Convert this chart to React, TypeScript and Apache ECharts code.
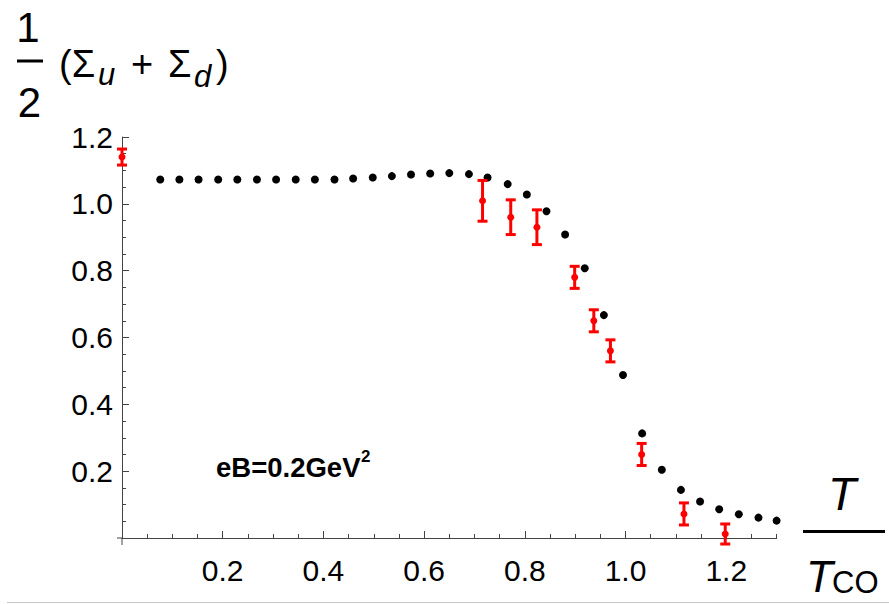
import React, { useEffect, useRef } from 'react';
import * as echarts from 'echarts';

// Black points: T/T_CO and (Σu+Σd)/2
const blackT = [0.076, 0.114, 0.152, 0.191, 0.229, 0.268, 0.306, 0.345, 0.383, 0.422, 0.459, 0.498, 0.536, 0.574, 0.612, 0.650, 0.689, 0.726, 0.766, 0.804, 0.843, 0.880, 0.919, 0.957, 0.995, 1.033, 1.072, 1.110, 1.148, 1.186, 1.225, 1.264, 1.300];
const blackY = [1.073, 1.073, 1.073, 1.073, 1.073, 1.073, 1.073, 1.073, 1.073, 1.073, 1.076, 1.079, 1.083, 1.088, 1.091, 1.092, 1.089, 1.079, 1.059, 1.028, 0.978, 0.908, 0.807, 0.667, 0.488, 0.313, 0.204, 0.144, 0.109, 0.086, 0.071, 0.061, 0.052];

// Red points with error bars
const redT = [0, 0.716, 0.772, 0.824, 0.899, 0.937, 0.970, 1.032, 1.116, 1.198];
const redY = [1.140, 1.009, 0.960, 0.930, 0.780, 0.650, 0.560, 0.250, 0.072, 0.012];
const redErr = [0.024, 0.061, 0.052, 0.052, 0.033, 0.033, 0.033, 0.033, 0.033, 0.030];

const xTickLabels = [0.2, 0.4, 0.6, 0.8, 1.0, 1.2];
const yTickLabels = [0.2, 0.4, 0.6, 0.8, 1.0, 1.2];

export default function App() {
  const ref = useRef<HTMLDivElement>(null);
  useEffect(() => {
    const chart = echarts.init(ref.current!, null, { renderer: 'svg' });
    const font = "'Liberation Sans', Arial, sans-serif";
    const axisColor = '#444';
    const red = '#ff0000';
    const txt = (text: string, x: number, y: number, size: number, extra: any = {}) => ({
      type: 'text',
      x,
      y,
      silent: true,
      style: {
        text,
        fontFamily: font,
        fontSize: size,
        fill: '#000',
        align: 'left',
        verticalAlign: 'middle',
        ...extra,
      },
    });
    const fmt = (v: number) => {
      const k = v / 0.2;
      if (v <= 0 || Math.abs(k - Math.round(k)) > 1e-6) return '';
      return v.toFixed(1);
    };
    const option: any = {
      animation: false,
      backgroundColor: '#ffffff',
      grid: {
        left: 122,
        top: 137,
        width: 654.6,
        height: 401,
        containLabel: false,
        outerBoundsMode: 'none',
      },
      xAxis: [
        {
          type: 'value',
          min: 0,
          max: 1.3,
          interval: 0.05,
          position: 'bottom',
          axisLine: { show: true, onZero: false, lineStyle: { color: axisColor, width: 1 } },
          axisTick: { show: true, inside: true, length: 4, lineStyle: { color: axisColor, width: 1 } },
          axisLabel: {
            show: true,
            customValues: xTickLabels,
            formatter: fmt,
            margin: 17,
            color: '#000',
            fontFamily: font,
            fontSize: 30,
            hideOverlap: false,
          },
          splitLine: { show: false },
          minorTick: { show: false },
        },
        {
          type: 'value',
          min: 0,
          max: 1.3,
          interval: 0.05,
          position: 'bottom',
          axisLine: { show: false, onZero: false },
          axisTick: { show: true, inside: true, length: 7, customValues: xTickLabels, lineStyle: { color: axisColor, width: 1 } },
          axisLabel: { show: false },
          splitLine: { show: false },
        },
      ],
      yAxis: {
        type: 'value',
        min: 0,
        max: 1.2,
        interval: 0.2,
        axisLine: { show: true, onZero: false, lineStyle: { color: axisColor, width: 1 } },
        axisTick: { show: true, inside: true, length: 7, lineStyle: { color: axisColor, width: 1 } },
        minorTick: { show: true, splitNumber: 4, length: 4, lineStyle: { color: axisColor, width: 1 } },
        axisLabel: {
          show: true,
          customValues: yTickLabels,
          formatter: fmt,
          margin: 9,
          color: '#000',
          fontFamily: font,
          fontSize: 30,
          hideOverlap: false,
        },
        splitLine: { show: false },
      },
      series: [
        {
          type: 'scatter',
          xAxisIndex: 0,
          yAxisIndex: 0,
          symbol: 'circle',
          symbolSize: 8,
          itemStyle: { color: '#000', opacity: 1 },
          data: blackT.map((t, i) => [t, blackY[i]]),
          z: 3,
        },
        {
          type: 'custom',
          xAxisIndex: 0,
          yAxisIndex: 0,
          clip: false,
          z: 4,
          encode: { x: 0, y: 1 },
          data: redT.map((t, i) => [t, redY[i], redErr[i]]),
          renderItem: (params: any, api: any) => {
            const t = api.value(0);
            const y = api.value(1);
            const e = api.value(2);
            const c = api.coord([t, y]);
            const top = api.coord([t, y + e]);
            const bot = api.coord([t, y - e]);
            const hw = 5;
            const st = { stroke: red, lineWidth: 3 };
            return {
              type: 'group',
              children: [
                { type: 'line', shape: { x1: c[0], y1: top[1], x2: c[0], y2: bot[1] }, style: st },
                { type: 'line', shape: { x1: c[0] - hw, y1: top[1], x2: c[0] + hw, y2: top[1] }, style: st },
                { type: 'line', shape: { x1: c[0] - hw, y1: bot[1], x2: c[0] + hw, y2: bot[1] }, style: st },
                { type: 'circle', shape: { cx: c[0], cy: c[1], r: 3.5 }, style: { fill: red } },
              ],
            };
          },
        },
      ],
      graphic: [
        // axis overhangs at origin
        { type: 'line', silent: true, shape: { x1: 117, y1: 538, x2: 122, y2: 538 }, style: { stroke: axisColor, lineWidth: 1 } },
        { type: 'line', silent: true, shape: { x1: 122, y1: 538, x2: 122, y2: 545 }, style: { stroke: axisColor, lineWidth: 1 } },
        // y-axis title: 1/2 (Σu + Σd)
        txt('1', 28, 27.4, 42, { align: 'center' }),
        { type: 'line', silent: true, shape: { x1: 17, y1: 61, x2: 43, y2: 61 }, style: { stroke: '#000', lineWidth: 3 } },
        txt('2', 29.5, 102.4, 42, { align: 'center' }),
        txt('(Σ', 59, 63.8, 38),
        txt('u', 98, 74.3, 31, { fontStyle: 'italic' }),
        txt('+', 131, 63.8, 38),
        txt('Σ', 168, 63.8, 38),
        txt('d', 194, 76.3, 31, { fontStyle: 'italic' }),
        txt(')', 216, 63.8, 38),
        // x-axis title: T / T_CO
        txt('T', 842, 494, 46, { align: 'center', fontStyle: 'italic' }),
        { type: 'line', silent: true, shape: { x1: 803, y1: 531.5, x2: 885, y2: 531.5 }, style: { stroke: '#000', lineWidth: 3 } },
        txt('T', 806, 576, 44, { fontStyle: 'italic' }),
        txt('CO', 832, 582, 31),
        // annotation
        txt('eB=0.2GeV', 216, 467, 27.5, { fontWeight: 'bold' }),
        txt('2', 361, 456, 17, { fontWeight: 'bold' }),
        // bottom frame line
        { type: 'line', silent: true, shape: { x1: 7, y1: 602.5, x2: 889, y2: 602.5 }, style: { stroke: '#c8c8c8', lineWidth: 1 } },
      ],
    };
    chart.setOption(option);
    return () => chart.dispose();
  }, []);
  return (
    <div
      ref={ref}
      style={{ position: 'absolute', left: 0, top: 0, width: 889, height: 604 }}
    />
  );
}
